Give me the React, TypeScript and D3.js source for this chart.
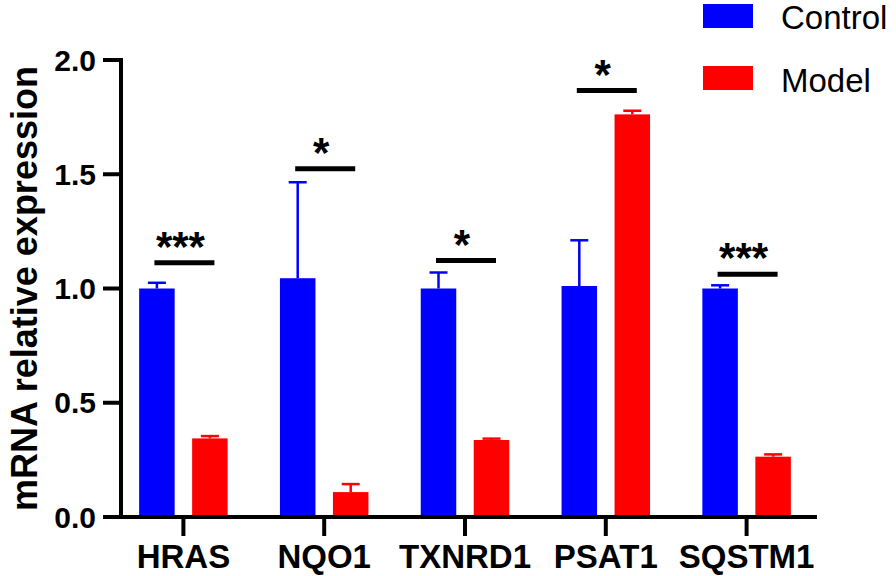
import React from "react";
import * as d3 from "d3";

const categories = ["HRAS", "NQO1", "TXNRD1", "PSAT1", "SQSTM1"];
const series = ["Control", "Model"];
const controlValues = [1.0, 1.045, 1.0, 1.011, 1.0];
const controlErrors = [0.025, 0.42, 0.07, 0.2, 0.014];
const modelValues = [0.344, 0.109, 0.337, 1.762, 0.264];
const modelErrors = [0.01, 0.035, 0.006, 0.016, 0.01];
const sigLabels = ["***", "*", "*", "*", "***"];
const sigLevels = [1.113, 1.524, 1.122, 1.866, 1.062];
const yTicks = [0.0, 0.5, 1.0, 1.5, 2.0];
const colors = ["#0000FF", "#FF0000"];

const W = 896;
const H = 576;
const FONT = "Arial, 'Liberation Sans', Helvetica, sans-serif";

export default function App() {
  const y = d3.scaleLinear().domain([0, 2]).range([517, 60]);
  const x = d3.scaleBand<string>().domain(categories).range([113, 817]).padding(0);
  const xSub = d3.scaleBand<string>().domain(series).range([0, 88.5]).paddingInner(0.33);
  const axisX = 121;
  const values = [controlValues, modelValues];
  const errors = [controlErrors, modelErrors];

  return (
    <svg width={W} height={H} style={{ position: "absolute", left: 0, top: 0, background: "#fff" }} fontFamily={FONT}>
      <rect x={0} y={0} width={W} height={H} fill="#fff" />
      {/* bars */}
      {categories.map((c, i) => {
        const cx = (x(c) as number) + x.bandwidth() / 2;
        const g0 = cx - 44.25;
        return (
          <g key={c}>
            {series.map((s, si) => {
              const v = values[si][i];
              const e = errors[si][i];
              const bx = g0 + (xSub(s) as number);
              const bw = xSub.bandwidth();
              const mid = bx + bw / 2;
              return (
                <g key={s}>
                  <line x1={mid} x2={mid} y1={y(v)} y2={y(v + e)} stroke={colors[si]} strokeWidth={2.5} />
                  <line x1={mid - 9} x2={mid + 9} y1={y(v + e)} y2={y(v + e)} stroke={colors[si]} strokeWidth={2.5} />
                  <rect x={bx} y={y(v)} width={bw} height={y(0) - y(v)} fill={colors[si]} />
                </g>
              );
            })}
            <line x1={cx - 29} x2={cx + 31} y1={y(sigLevels[i])} y2={y(sigLevels[i])} stroke="#000" strokeWidth={5} />
            <text x={cx - 3} y={y(sigLevels[i]) - 2} textAnchor="middle" fontSize={42} fontWeight="bold" fill="#000">
              {sigLabels[i]}
            </text>
            <line x1={cx} x2={cx} y1={517} y2={536} stroke="#000" strokeWidth={4} />
            <text x={cx} y={568} textAnchor="middle" fontSize={33} fontWeight="bold" fill="#000">
              {c}
            </text>
          </g>
        );
      })}
      {/* axes */}
      <line x1={axisX} x2={axisX} y1={y(2) - 2} y2={519} stroke="#000" strokeWidth={4} />
      <line x1={103} x2={817} y1={517} y2={517} stroke="#000" strokeWidth={4} />
      {yTicks.map((t) => (
        <g key={t}>
          <line x1={103} x2={axisX} y1={y(t)} y2={y(t)} stroke="#000" strokeWidth={4} />
          <text x={96} y={y(t)} dy="0.35em" textAnchor="end" fontSize={30} fontWeight="bold" fill="#000">
            {d3.format(".1f")(t)}
          </text>
        </g>
      ))}
      <text
        transform={`translate(37, ${(y(0) + y(2)) / 2}) rotate(-90)`}
        textAnchor="middle"
        fontSize={36}
        fontWeight="bold"
        fill="#000"
      >
        mRNA relative expression
      </text>
      {/* legend */}
      {series.map((s, si) => (
        <g key={s}>
          <rect x={703} y={4 + si * 62} width={50} height={24} fill={colors[si]} />
          <text x={781} y={29 + si * 63} fontSize={33} fill="#000">
            {s}
          </text>
        </g>
      ))}
    </svg>
  );
}
